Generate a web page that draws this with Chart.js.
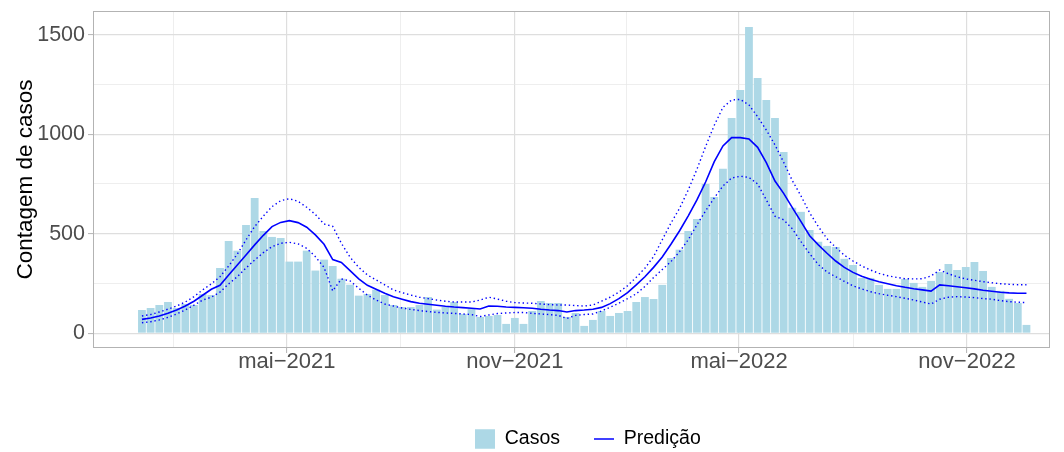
<!DOCTYPE html>
<html>
<head>
<meta charset="utf-8">
<script src="https://cdn.jsdelivr.net/npm/chart.js@4.4.1/dist/chart.umd.min.js"></script>
<style>
    html, body { margin: 0; padding: 0; background: #ffffff; }
</style>
</head>
<body>
<canvas id="casosChart" width="1064" height="452"></canvas>
<script>
// ---------- data ----------
const primeiraSemana = "2021-01-04";

const casos = [
    117, 127, 142, 157, 127, 147, 142, 197, 192, 328,
    464, 415, 544, 680, 514, 484, 479, 360, 360, 415,
    315, 370, 338, 274, 244, 189, 197, 219, 192, 142,
    132, 132, 142, 182, 119, 132, 157, 97, 122, 82,
    87, 92, 47, 77, 47, 112, 162, 152, 152, 82,
    102, 37, 67, 112, 87, 102, 112, 157, 182, 172,
    243, 378, 420, 514, 574, 750, 685, 826, 1082, 1222,
    1539, 1283, 1172, 1082, 911, 630, 610, 519, 460, 439,
    434, 374, 343, 278, 278, 243, 223, 223, 273, 253,
    233, 263, 308, 348, 318, 333, 358, 313, 233, 213,
    173, 152, 42
];

const predicao = [
    70, 77, 87, 100, 117, 137, 161, 191, 221, 241,
    293, 343, 393, 444, 492, 536, 557, 566, 556, 533,
    494, 447, 370, 356, 315, 273, 241, 221, 201, 184,
    171, 159, 151, 146, 141, 136, 132, 129, 126, 122,
    137, 136, 132, 130, 128, 126, 121, 117, 114, 107,
    114, 117, 121, 130, 149, 174, 204, 243, 284, 331,
    383, 447, 515, 590, 670, 760, 862, 941, 983, 983,
    976, 934, 857, 765, 703, 631, 561, 490, 444, 402,
    363, 331, 306, 286, 271, 259, 249, 239, 231, 224,
    218, 212, 243, 239, 234, 229, 223, 216, 211, 206,
    203, 201, 201
];

const predicaoSup = [
    87, 94, 107, 121, 137, 157, 184, 218, 248, 284,
    338, 398, 469, 536, 589, 636, 666, 676, 663, 633,
    597, 549, 537, 452, 382, 331, 293, 268, 243, 218,
    204, 192, 181, 174, 167, 161, 157, 157, 157, 167,
    181, 172, 161, 154, 152, 151, 147, 144, 142, 142,
    139, 137, 142, 161, 181, 207, 239, 281, 327, 385,
    470, 553, 628, 720, 824, 938, 1045, 1135, 1172, 1175,
    1147, 1088, 1021, 946, 859, 767, 690, 605, 536, 475,
    432, 392, 363, 338, 318, 301, 289, 281, 274, 273,
    274, 288, 318, 299, 284, 273, 266, 259, 254, 249,
    246, 244, 244
];

const predicaoInf = [
    53, 58, 67, 80, 97, 117, 141, 167, 181, 207,
    248, 284, 328, 368, 405, 435, 452, 457, 449, 427,
    385, 331, 213, 273, 263, 226, 192, 167, 147, 137,
    127, 120, 114, 109, 105, 102, 100, 97, 94, 84,
    92, 99, 102, 104, 104, 100, 97, 94, 90, 74,
    90, 94, 97, 112, 131, 151, 174, 198, 235, 280,
    320, 360, 410, 470, 545, 615, 680, 740, 780, 789,
    783, 750, 670, 588, 570, 525, 460, 400, 345, 308,
    284, 261, 238, 223, 209, 199, 191, 184, 176, 167,
    157, 147, 171, 181, 184, 182, 179, 174, 171, 164,
    159, 156, 154
];

const xTickDates = ["2021-05-01", "2021-11-01", "2022-05-01", "2022-11-01"];
const xTickLabels = ["mai\u22122021", "nov\u22122021", "mai\u22122022", "nov\u22122022"];
const yTicks = [0, 500, 1000, 1500];
const yMinorTicks = [250, 750, 1250];

// ---------- helpers ----------
const DAY = 86400000;
const dayOf = s => (Date.parse(s) - Date.parse(primeiraSemana)) / DAY;

// one date per week, same length as the series
const semanas = casos.map((_, i) => {
    const d = new Date(Date.parse(primeiraSemana) + i * 7 * DAY);
    return d.toISOString().split("T")[0];
});

const toPoints = values => values.map((v, i) => ({ x: dayOf(semanas[i]), y: v }));

const xMajor = xTickDates.map(dayOf);
const xStep = (xMajor[xMajor.length - 1] - xMajor[0]) / (xMajor.length - 1);
const xMinor = [xMajor[0] - xStep / 2];
for (let i = 0; i < xMajor.length - 1; i++) {
    xMinor.push((xMajor[i] + xMajor[i + 1]) / 2);
}

const FONT = "'Liberation Sans', Arial, Helvetica, sans-serif";
const GRID_MAJOR = "#DEDEDE";
const GRID_MINOR = "#E6E6E6";
const BORDER = "#B3B3B3";

const isMajorX = v => xMajor.some(m => Math.abs(m - v) < 0.01);
const isMajorY = v => yTicks.includes(v);

// panel border like ggplot's theme_light
const panelBorder = {
    id: "panelBorder",
    afterDatasetsDraw(chart) {
        const { ctx, chartArea: a } = chart;
        ctx.save();
        ctx.strokeStyle = BORDER;
        ctx.lineWidth = 1;
        ctx.strokeRect(a.left + 0.5, a.top + 0.5, a.right - a.left - 1, a.bottom - a.top - 1);
        ctx.restore();
    }
};

// place the legend row where ggplot put it
const legendPlacer = {
    id: "legendPlacer",
    afterLayout(chart) {
        const lg = chart.legend;
        if (!lg || !lg.lineWidths) return;
        const pad = lg.options.labels.padding;
        const startX = (lg.left + pad + lg.right - lg.lineWidths[0]) / 2;
        const dx = 475 - startX;
        lg.left += dx;
        lg.right += dx;
        const fontSize = lg.options.labels.font.size;
        const dy = 439 - (lg.top + pad + fontSize / 2);
        lg.top += dy;
        lg.bottom += dy;
    }
};

const chart = new Chart(document.getElementById("casosChart"), {
    type: "bar",
    data: {
        datasets: [
            {
                type: "bar",
                label: "Casos",
                data: toPoints(casos),
                backgroundColor: "#ADD8E6",
                borderWidth: 0,
                barPercentage: 0.9,
                categoryPercentage: 1.0,
                order: 3
            },
            {
                type: "line",
                label: "Predição",
                data: toPoints(predicao),
                borderColor: "#0000FF",
                borderWidth: 1.6,
                pointRadius: 0,
                tension: 0,
                order: 1
            },
            {
                type: "line",
                label: "Limite superior",
                data: toPoints(predicaoSup),
                borderColor: "#0000FF",
                borderWidth: 1.4,
                borderDash: [1.4, 2.8],
                pointRadius: 0,
                tension: 0,
                order: 2
            },
            {
                type: "line",
                label: "Limite inferior",
                data: toPoints(predicaoInf),
                borderColor: "#0000FF",
                borderWidth: 1.4,
                borderDash: [1.4, 2.8],
                pointRadius: 0,
                tension: 0,
                order: 2
            }
        ]
    },
    options: {
        responsive: false,
        animation: false,
        devicePixelRatio: 1,
        layout: {
            padding: { top: 11, right: 14, bottom: 0, left: 0 }
        },
        plugins: {
            tooltip: { enabled: false },
            legend: {
                position: "bottom",
                labels: {
                    usePointStyle: true,
                    pointStyleWidth: 20,
                    padding: 34,
                    color: "#000000",
                    font: { family: FONT, size: 19.5 },
                    generateLabels(c) {
                        const ds = c.data.datasets;
                        return [
                            {
                                text: ds[0].label,
                                fillStyle: ds[0].backgroundColor,
                                strokeStyle: "rgba(0,0,0,0)",
                                lineWidth: 0,
                                pointStyle: "rect",
                                datasetIndex: 0,
                                hidden: false
                            },
                            {
                                text: ds[1].label,
                                fillStyle: ds[1].borderColor,
                                strokeStyle: ds[1].borderColor,
                                lineWidth: 1.6,
                                pointStyle: "line",
                                datasetIndex: 1,
                                hidden: false
                            }
                        ];
                    }
                }
            }
        },
        scales: {
            x: {
                type: "linear",
                min: -39.5,
                max: 733,
                offset: false,
                afterBuildTicks(scale) {
                    scale.ticks = [...xMinor, ...xMajor].sort((a, b) => a - b).map(v => ({ value: v }));
                },
                afterFit(scale) {
                    const lg = scale.chart.legend;
                    scale.height = 452 - 348 - ((lg && lg.height) || 0);
                    scale.paddingLeft = 0;
                    scale.paddingRight = 0;
                },
                ticks: {
                    autoSkip: false,
                    maxRotation: 0,
                    padding: -4,
                    color: "#4D4D4D",
                    font: { family: FONT, size: 22 },
                    callback(value) {
                        const i = xMajor.findIndex(m => Math.abs(m - value) < 0.01);
                        return i >= 0 ? xTickLabels[i] : "";
                    }
                },
                grid: {
                    offset: false,
                    color: ctx => isMajorX(ctx.tick.value) ? GRID_MAJOR : GRID_MINOR,
                    lineWidth: ctx => isMajorX(ctx.tick.value) ? 1.2 : 0.7,
                    tickColor: ctx => isMajorX(ctx.tick.value) ? BORDER : "rgba(0,0,0,0)",
                    tickLength: 5,
                    tickWidth: 1
                },
                border: { display: false }
            },
            y: {
                type: "linear",
                min: -74,
                max: 1619,
                afterBuildTicks(scale) {
                    scale.ticks = [...yTicks, ...yMinorTicks].sort((a, b) => a - b).map(v => ({ value: v }));
                },
                afterFit(scale) {
                    scale.width = 93;
                    scale.paddingTop = 0;
                    scale.paddingBottom = 0;
                },
                ticks: {
                    autoSkip: false,
                    padding: 3,
                    color: "#4D4D4D",
                    font: { family: FONT, size: 21.5 },
                    callback(value) {
                        return isMajorY(value) ? String(value) : "";
                    }
                },
                grid: {
                    color: ctx => isMajorY(ctx.tick.value) ? GRID_MAJOR : GRID_MINOR,
                    lineWidth: ctx => isMajorY(ctx.tick.value) ? 1.2 : 0.7,
                    tickColor: ctx => isMajorY(ctx.tick.value) ? BORDER : "rgba(0,0,0,0)",
                    tickLength: 5,
                    tickWidth: 1
                },
                border: { display: false },
                title: {
                    display: true,
                    text: "Contagem de casos",
                    color: "#000000",
                    font: { family: FONT, size: 22.5 },
                    padding: { top: 12, bottom: 0 }
                }
            }
        }
    },
    plugins: [panelBorder, legendPlacer]
});
</script>
</body>
</html>
